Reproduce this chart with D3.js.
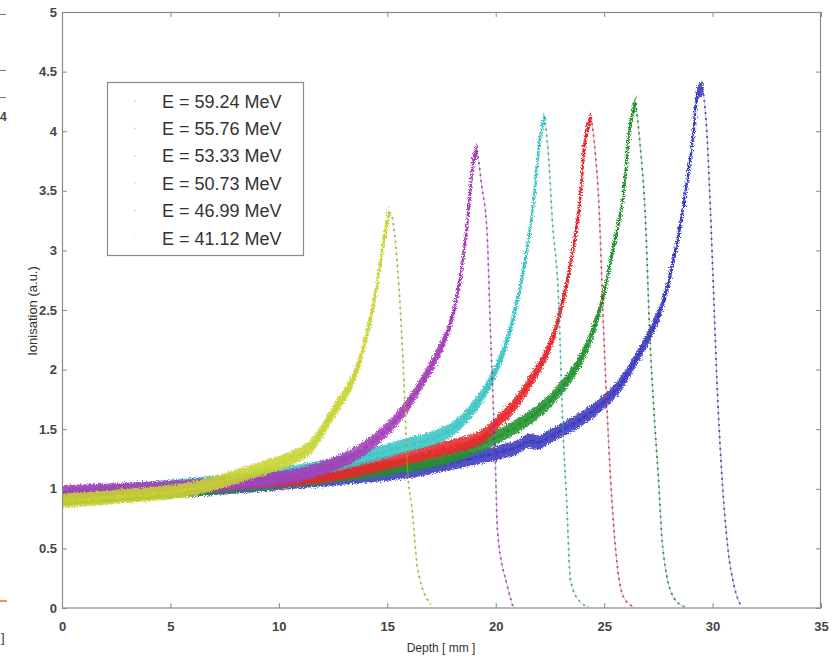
<!DOCTYPE html>
<html>
<head>
<meta charset="utf-8">
<script src="https://cdn.jsdelivr.net/npm/d3@7/dist/d3.min.js"></script>
<style>
  html, body { margin: 0; padding: 0; background: #fff; }
  svg { display: block; font-family: "Liberation Sans", Arial, sans-serif; }
</style>
</head>
<body>
<svg id="chart" width="833" height="659"></svg>
<script>
// ---------------- data ----------------
const xTicks = [0, 5, 10, 15, 20, 25, 30, 35];
const yTicks = [0, 0.5, 1, 1.5, 2, 2.5, 3, 3.5, 4, 4.5, 5];
const yTickLabels = ["0", "0.5", "1", "1.5", "2", "2.5", "3", "3.5", "4", "4.5", "5"];

const energies = ["E = 59.24 MeV", "E = 55.76 MeV", "E = 53.33 MeV", "E = 50.73 MeV", "E = 46.99 MeV", "E = 41.12 MeV"];
const colors = ["#3a3abf", "#23922f", "#e8262c", "#3cc4c4", "#a43cb8", "#c8d430"];
const darkColors = ["#2a2a8a", "#1c5f25", "#a32a30", "#2a8a8a", "#6e3080", "#8a9428"];

const depth5924 = [0, 4, 8, 12, 16, 18, 20, 21.0, 21.5, 22.0, 22.6, 23.9, 25.4, 26.7, 27.6, 28.2, 28.7, 29.1, 29.35, 29.55, 29.75, 29.9, 30.06, 30.2, 30.4, 30.7, 31.0, 31.3];
const ion5924   = [0.93, 0.97, 1.02, 1.08, 1.15, 1.22, 1.30, 1.35, 1.40, 1.39, 1.45, 1.58, 1.80, 2.16, 2.50, 2.92, 3.42, 3.95, 4.33, 4.36, 3.95, 3.34, 2.58, 1.90, 1.20, 0.51, 0.18, 0.02];

const depth5576 = [0, 4, 8, 12, 16, 18, 19.3, 21.0, 22.4, 23.9, 24.8, 25.4, 25.85, 26.2, 26.45, 26.65, 26.9, 27.1, 27.3, 27.5, 27.7, 28.2, 28.7];
const ion5576   = [0.92, 0.97, 1.03, 1.10, 1.20, 1.28, 1.37, 1.53, 1.72, 2.08, 2.50, 3.00, 3.42, 4.05, 4.24, 3.90, 3.28, 2.31, 1.64, 1.10, 0.51, 0.09, 0.01];

const depth5333 = [0, 4, 8, 12, 15, 17.0, 17.9, 19.3, 20.2, 20.8, 22.4, 23.1, 23.8, 24.15, 24.4, 24.6, 24.75, 24.98, 25.15, 25.3, 25.55, 25.9, 26.36];
const ion5333   = [0.94, 0.99, 1.05, 1.11, 1.22, 1.31, 1.35, 1.43, 1.58, 1.69, 2.16, 2.58, 3.28, 3.95, 4.12, 3.80, 3.42, 2.31, 1.60, 1.07, 0.45, 0.09, 0.01];

const depth5073 = [0, 4, 8, 10, 12, 14, 15.6, 17.9, 19.3, 20.2, 20.8, 21.3, 21.7, 22.05, 22.25, 22.45, 22.6, 22.9, 23.1, 23.27, 23.45, 23.9, 24.3];
const ion5073   = [0.95, 1.00, 1.07, 1.12, 1.18, 1.27, 1.35, 1.49, 1.76, 2.08, 2.42, 2.86, 3.34, 3.95, 4.12, 3.75, 3.28, 2.58, 1.50, 0.90, 0.23, 0.05, 0.01];

const depth4699 = [0, 3, 6, 8.7, 11, 13.3, 14.5, 15.6, 16.85, 17.77, 18.24, 18.6, 18.8, 19.0, 19.15, 19.35, 19.6, 19.76, 19.99, 20.08, 20.54, 20.8];
const ion4699   = [0.97, 0.99, 1.02, 1.06, 1.12, 1.27, 1.42, 1.62, 1.97, 2.31, 2.64, 3.09, 3.45, 3.78, 3.84, 3.55, 3.15, 2.31, 1.18, 0.65, 0.18, 0.01];

const depth4112 = [0, 3, 6, 8.7, 10.5, 11.45, 12.5, 13.4, 14.08, 14.54, 14.9, 15.08, 15.22, 15.47, 15.74, 15.93, 16.16, 16.39, 17.0];
const ion4112   = [0.90, 0.94, 1.00, 1.14, 1.25, 1.35, 1.64, 1.91, 2.31, 2.73, 3.15, 3.32, 3.28, 2.86, 2.02, 1.18, 0.80, 0.34, 0.03];

const seriesDepth = [depth5924, depth5576, depth5333, depth5073, depth4699, depth4112];
const seriesIon   = [ion5924, ion5576, ion5333, ion5073, ion4699, ion4112];

// ---------------- layout ----------------
const svg = d3.select("#chart");
const x = d3.scaleLinear().domain([0, 35]).range([62, 821]);
const y = d3.scaleLinear().domain([0, 5]).range([608, 12]);

// roughness filter for the noisy scatter bands
const defs = svg.append("defs");
const f = defs.append("filter").attr("id", "rough").attr("x", "-5%").attr("y", "-5%").attr("width", "110%").attr("height", "110%");
f.append("feTurbulence").attr("type", "fractalNoise").attr("baseFrequency", "0.8").attr("numOctaves", 2).attr("seed", 3).attr("result", "n");
f.append("feDisplacementMap").attr("in", "SourceGraphic").attr("in2", "n").attr("scale", 6).attr("xChannelSelector", "R").attr("yChannelSelector", "G");

const clip = defs.append("clipPath").attr("id", "plotclip");
clip.append("rect").attr("x", 62).attr("y", 12).attr("width", 759).attr("height", 596);

// ---------------- left-edge artefacts (cropped neighbouring figure) ----------------
const art = svg.append("g").attr("stroke", "#777").attr("stroke-width", 1);
[14, 70, 97].forEach(v => art.append("line").attr("x1", 0).attr("x2", 6).attr("y1", v + 0.5).attr("y2", v + 0.5));
svg.append("text").attr("x", 0).attr("y", 121).attr("font-size", 12).attr("font-weight", "bold").attr("fill", "#444").text("4");
svg.append("line").attr("x1", 0).attr("x2", 7).attr("y1", 601).attr("y2", 601).attr("stroke", "#e0a030").attr("stroke-width", 2);
svg.append("text").attr("x", 1).attr("y", 642).attr("font-size", 13).attr("fill", "#333").text("]");

// ---------------- series ----------------
const plot = svg.append("g").attr("clip-path", "url(#plotclip)");
const hw = 0.06;
const riseCurve = d3.curveCatmullRom.alpha(0.5);

seriesDepth.forEach((dep, i) => {
  const pts = dep.map((d, k) => ({ d: d, v: seriesIon[i][k] }));
  const peak = d3.maxIndex(pts, p => p.v);
  const rise = pts.slice(0, peak + 1);
  const fall = pts.slice(peak);
  const g = plot.append("g");

  // noisy band (constant vertical thickness)
  g.append("path")
    .datum(rise)
    .attr("d", d3.area().x(p => x(p.d)).y0(p => y(p.v - hw)).y1(p => y(p.v + hw)).curve(riseCurve))
    .attr("fill", colors[i]).attr("opacity", 0.88)
    .attr("filter", "url(#rough)");
  // centre of the rising edge
  g.append("path")
    .datum(rise)
    .attr("d", d3.line().x(p => x(p.d)).y(p => y(p.v)).curve(riseCurve))
    .attr("fill", "none").attr("stroke", colors[i]).attr("stroke-width", 2.6)
    .attr("stroke-dasharray", "6,1.5")
    .attr("filter", "url(#rough)");
  // distal fall-off: sparse dotted points
  g.append("path")
    .datum(fall)
    .attr("d", d3.line().x(p => x(p.d)).y(p => y(p.v)).curve(d3.curveMonotoneX))
    .attr("fill", "none").attr("stroke", colors[i]).attr("stroke-width", 0.8).attr("opacity", 0.45);
  g.append("path")
    .datum(fall)
    .attr("d", d3.line().x(p => x(p.d)).y(p => y(p.v)).curve(d3.curveMonotoneX))
    .attr("fill", "none").attr("stroke", darkColors[i]).attr("stroke-width", 1.8)
    .attr("stroke-dasharray", "2,4").attr("opacity", 0.75);
});

// ---------------- axes ----------------
const axisCol = "#8a8a8a";
svg.append("rect").attr("x", 62.5).attr("y", 12.5).attr("width", 758).attr("height", 595.5)
  .attr("fill", "none").attr("stroke", axisCol).attr("stroke-width", 1.2);

const xAxis = svg.append("g").attr("transform", "translate(0,608)")
  .call(d3.axisBottom(x).tickValues(xTicks).tickSizeInner(-5).tickSizeOuter(0).tickPadding(14).tickFormat(d3.format("d")));
const xTop = svg.append("g").attr("transform", "translate(0,12)")
  .call(d3.axisTop(x).tickValues(xTicks).tickSizeInner(-5).tickSizeOuter(0).tickFormat(""));
const yAxis = svg.append("g").attr("transform", "translate(62,0)")
  .call(d3.axisLeft(y).tickValues(yTicks).tickSizeInner(-5).tickSizeOuter(0).tickPadding(5).tickFormat((d, k) => yTickLabels[k]));
const yRight = svg.append("g").attr("transform", "translate(821,0)")
  .call(d3.axisRight(y).tickValues(yTicks).tickSizeInner(-5).tickSizeOuter(0).tickFormat(""));

[xAxis, xTop, yAxis, yRight].forEach(a => {
  a.select(".domain").remove();
  a.selectAll(".tick line").attr("stroke", axisCol);
  a.selectAll(".tick text").attr("fill", "#444").attr("font-size", 13).attr("font-weight", "bold")
    .attr("font-family", "'Liberation Sans', Arial, sans-serif");
});

svg.append("text").attr("x", 441).attr("y", 652).attr("text-anchor", "middle")
  .attr("font-size", 12).attr("fill", "#333").text("Depth [ mm ]");
svg.append("text").attr("transform", "translate(37,311) rotate(-90)").attr("text-anchor", "middle")
  .attr("font-size", 13).attr("fill", "#333").text("Ionisation (a.u.)");

// ---------------- legend ----------------
const lg = svg.append("g");
lg.append("rect").attr("x", 107.5).attr("y", 82.5).attr("width", 196).attr("height", 173)
  .attr("fill", "#fff").attr("stroke", "#8a8a8a").attr("stroke-width", 1.2);
energies.forEach((e, i) => {
  const yy = 101 + i * 27.4;
  lg.append("circle").attr("cx", 135).attr("cy", yy).attr("r", 0.8).attr("fill", colors[i]).attr("opacity", 0.35);
  lg.append("text").attr("x", 162).attr("y", yy + 6.5).attr("font-size", 18).attr("fill", "#333").text(e);
});
</script>
</body>
</html>
